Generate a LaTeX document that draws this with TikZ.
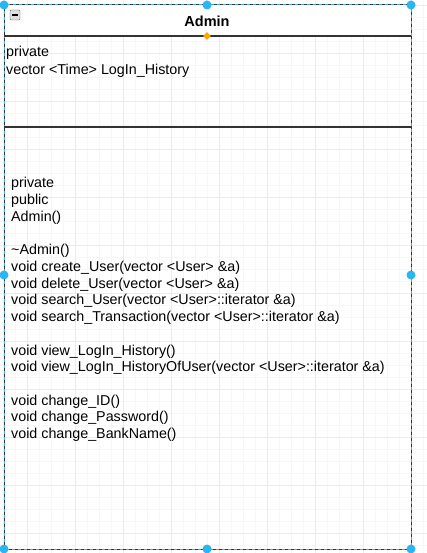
\documentclass[tikz,border=0pt]{standalone}
\usepackage{fontspec}
\setmainfont{Liberation Sans}
\usetikzlibrary{shapes.geometric}
\definecolor{gridminor}{HTML}{F7F7F7}
\definecolor{gridmajor}{HTML}{EBEBEB}
\definecolor{handle}{HTML}{29B6F2}
\definecolor{borderc}{HTML}{333333}
\definecolor{orangec}{HTML}{FFA500}
\tikzset{
  txt/.style={anchor=base west, inner sep=0pt, font=\fontsize{14.3}{16}\selectfont},
  hdl/.style={circle, fill=handle, draw=none, minimum size=9pt, inner sep=0pt},
  sep/.style={draw=borderc, line width=1.2pt},
}
\begin{document}
\begin{tikzpicture}[x=1pt,y=-1pt]
\useasboundingbox (0,0) rectangle (427,553);
\fill[white] (0,0) rectangle (427,553);
% grid
\foreach \i in {0,...,35} {\draw[gridminor, line width=0.6pt] (3+12*\i,0) -- (3+12*\i,553);}
\foreach \i in {0,...,46} {\draw[gridminor, line width=0.6pt] (0,5+12*\i) -- (427,5+12*\i);}
\foreach \i in {0,...,8} {\draw[gridmajor, line width=0.7pt] (27+48*\i,0) -- (27+48*\i,553);}
\foreach \i in {0,...,11} {\draw[gridmajor, line width=0.7pt] (0,5+48*\i) -- (427,5+48*\i);}
% title bar
\fill[white] (4,5) rectangle (411,36);
% box border
\draw[borderc, line width=1pt] (4,5) rectangle (411,549);
\draw[handle, line width=1pt, dash pattern=on 3pt off 3pt] (4,5) rectangle (411,549);
% separators
\draw[sep] (4,36) -- (411,36);
\draw[sep] (4,127) -- (411,127);
% collapse icon
\node[draw=gray!80!black, fill=gray!25, minimum size=10pt, inner sep=0pt, rounded corners=1pt] (icon) at (15,15) {};
\draw[black, line width=1.2pt] ([xshift=-3pt]icon.center) -- ([xshift=3pt]icon.center);
% title
\node[anchor=base, inner sep=0pt, font=\fontsize{14.5}{16}\selectfont\bfseries] (title) at (207,27) {Admin};
% attributes
\node[txt] (a1) at (6,57) {private};
\node[txt] (a2) at (6,75) {vector <Time> LogIn\_History};
% methods
\node[txt] (m1) at (11,188) {private};
\node[txt] (m2) at (11,204.7) {public};
\node[txt] (m3) at (11,221.4) {Admin()};
\node[txt] (m4) at (11,254.8) {\textasciitilde Admin()};
\node[txt] (m5) at (11,271.5) {void create\_User(vector <User> \&a)};
\node[txt] (m6) at (11,288.2) {void delete\_User(vector <User> \&a)};
\node[txt] (m7) at (11,304.9) {void search\_User(vector <User>::iterator \&a)};
\node[txt] (m8) at (11,321.6) {void search\_Transaction(vector <User>::iterator \&a)};
\node[txt] (m9) at (11,355) {void view\_LogIn\_History()};
\node[txt] (m10) at (11,371.7) {void view\_LogIn\_HistoryOfUser(vector <User>::iterator \&a)};
\node[txt] (m11) at (11,405.1) {void change\_ID()};
\node[txt] (m12) at (11,421.8) {void change\_Password()};
\node[txt] (m13) at (11,438.5) {void change\_BankName()};
% orange diamond
\node[diamond, fill=orangec, draw=none, minimum size=8pt, inner sep=0pt] (dia) at (207,36) {};
% handles
\node[hdl] (h1) at (4,5) {};
\node[hdl] (h2) at (207,5) {};
\node[hdl] (h3) at (411,5) {};
\node[hdl] (h4) at (411,275) {};
\node[hdl] (h5) at (411,549) {};
\node[hdl] (h6) at (207,549) {};
\node[hdl] (h7) at (4,549) {};
\node[hdl] (h8) at (4,275) {};
\end{tikzpicture}
\end{document}
